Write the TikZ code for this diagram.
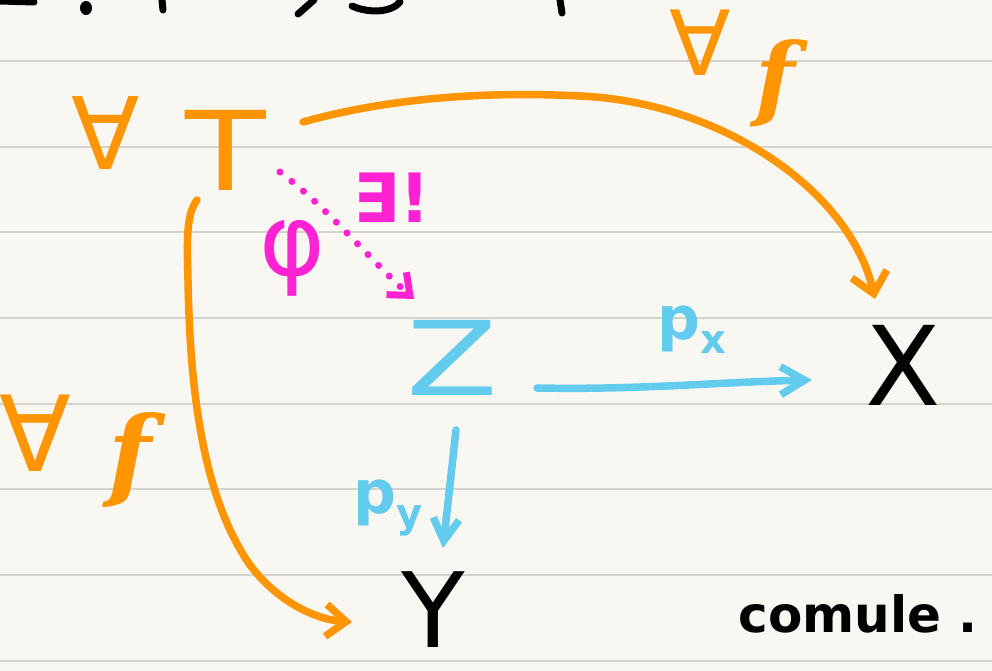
\documentclass[tikz,border=0pt]{standalone}
\usepackage{fontspec}
\usetikzlibrary{arrows.meta,calc}
\newfontfamily\hand{DejaVu Sans}
\newfontfamily\handserif{DejaVu Serif}
\newcommand\hfs[1]{\hand\fontsize{#1}{#1}\selectfont}
\newcommand\ffs[1]{\handserif\itshape\bfseries\fontsize{#1}{#1}\selectfont}
\definecolor{paper}{HTML}{F9F7F2}
\definecolor{ruleline}{HTML}{D6D3CE}
\definecolor{orng}{HTML}{FF9500}
\definecolor{pnk}{HTML}{FF22D2}
\definecolor{sky}{HTML}{62CBEE}
\tikzset{
  lbl/.style={inner sep=0pt, anchor=center},
  rulestyle/.style={draw=ruleline, line width=1.4pt},
  ink/.style={line width=7.5pt, line cap=round, line join=round},
  oarrow/.style={ink, draw=orng},
  barrow/.style={ink, draw=sky},
  parrow/.style={ink, draw=pnk, line width=7pt, dash pattern=on 0.1pt off 15pt},
  scrib/.style={line width=7pt, line cap=round, draw=black},
}
\begin{document}
\begin{tikzpicture}[x=1pt,y=-1pt]
\fill[paper] (0,0) rectangle (992,671);
\useasboundingbox (0,0) rectangle (992,671);
\foreach \yy in {61,147,232,318,404,489,575,661} \draw[rulestyle] (0,\yy) -- (992,\yy);

% cut-off handwriting at the top edge
\draw[scrib] (0,1) -- (34,2);
\fill[black] (86,8) ellipse (6pt and 7pt);
\draw[scrib] (162,0) -- (163,10);
\draw[scrib] (298,14) -- (314,0);
\draw[scrib] (352,6) .. controls (370,14) and (392,12) .. (400,2);
\draw[scrib] (560,0) -- (562,13);

% labels and objects
\node[lbl, text=orng, font=\hfs{100}] (forallT) at (106,133) {∀};
\node[lbl, text=orng, font=\hfs{110}, xscale=1.2] (T) at (226,150) {T};
\node[lbl, text=orng, font=\hfs{90}] (forallTop) at (700,43) {∀};
\node[lbl, text=orng, font=\ffs{92}] (fTop) at (775,83) {f};
\node[lbl, text=orng, font=\hfs{105}] (forallLeft) at (35,433) {∀};
\node[lbl, text=orng, font=\ffs{100}] (fLeft) at (130,460) {f};
\node[lbl, text=pnk, font=\hfs{100}] (phi) at (292,258) {φ};
\node[lbl, text=pnk, font=\hfs{68}\bfseries] (exists) at (392,198) {∃!};
\node[lbl, text=sky, font=\hfs{103}, xscale=1.3] (Z) at (452,358) {Z};
\node[lbl, text=black, font=\hfs{110}] (X) at (903,365) {X};
\node[lbl, text=black, font=\hfs{104}] (Y) at (433,610) {Y};
\node[lbl, text=sky, font=\hfs{60}\bfseries] (px) at (692,330) {p\raisebox{-14pt}{\fontsize{40}{40}\selectfont x}};
\node[lbl, text=sky, font=\hfs{60}\bfseries] (py) at (388,508) {p\raisebox{-14pt}{\fontsize{40}{40}\selectfont y}};
\node[lbl, text=black, font=\hfs{50}\bfseries] (comm) at (858,614) {comule .};

% orange arrows
\draw[oarrow, -{Straight Barb[length=20pt,width=36pt]}]
  ($(T)+(77,-28)$) .. controls (400,95) and (500,92) .. (580,96)
  .. controls (720,102) and (850,190) .. ($(X)+(-28,-66)$);
\draw[oarrow, -{Straight Barb[length=20pt,width=32pt]}]
  ($(T)+(-29,50)$) .. controls (186,215) and (187,240) .. (188,280)
  .. controls (190,400) and (205,500) .. (250,565)
  .. controls (280,605) and (320,620) .. ($(Y)+(-81,12)$);

% pink dotted unique arrow
\draw[parrow, -{Straight Barb[length=18pt,width=30pt]}]
  ($(T)+(54,22)$) .. controls (330,210) and (370,260) .. ($(Z)+(-38,-59)$);

% blue projections
\draw[barrow, -{Straight Barb[length=24pt,width=28pt]}]
  ($(Z)+(85,30)$) .. controls (640,390) and (720,382) .. ($(X)+(-91,15)$);
\draw[barrow, -{Straight Barb[length=22pt,width=26pt]}]
  ($(Z)+(4,72)$) -- ($(Y)+(10,-62)$);
\end{tikzpicture}
\end{document}
